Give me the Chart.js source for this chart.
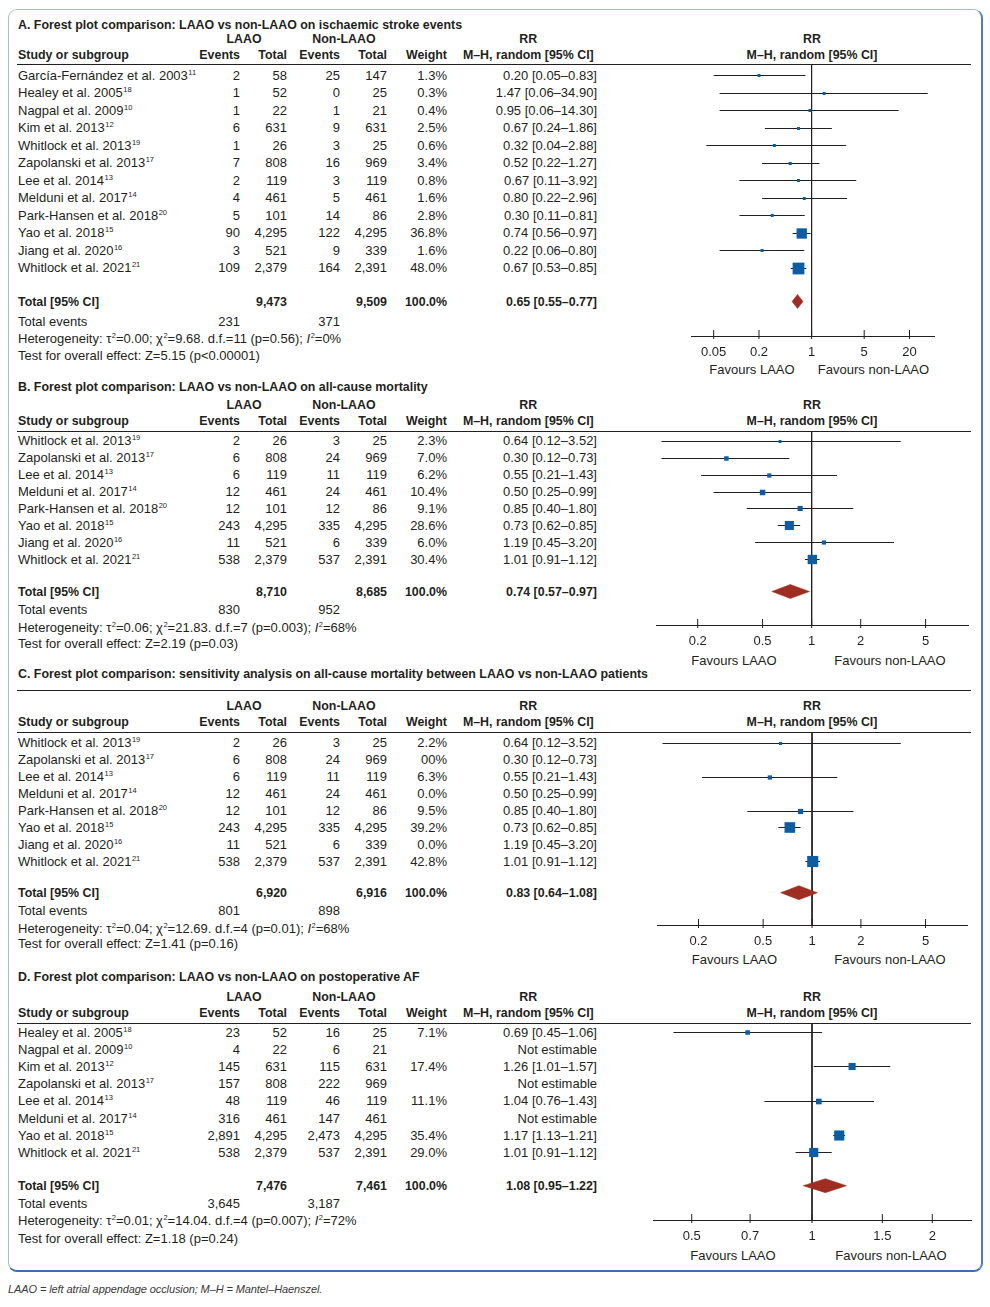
<!DOCTYPE html>
<html><head><meta charset="utf-8">
<script src="https://cdn.jsdelivr.net/npm/chart.js@4.4.1/dist/chart.umd.min.js"></script>
<style>
html,body{margin:0;padding:0;background:#fff;}
body{width:990px;height:1307px;position:relative;overflow:hidden;font-family:"Liberation Sans",Arial,sans-serif;color:#231f20;}
.t{position:absolute;white-space:nowrap;font-size:13px;line-height:16px;height:16px;}
.b{font-weight:bold;font-size:12.4px;}
.r{transform:translateX(-100%);}
.c{transform:translateX(-50%);}
.sup{font-size:7.5px;position:relative;top:-5px;margin-left:0.5px;}
.hl{position:absolute;height:1px;background:#231f20;}
#frame{position:absolute;left:8px;top:9px;width:975px;height:1263px;border-style:solid;border-width:1px 2px 2px 1.5px;border-color:#a7bcd9 #4f7db9 #3f6fae #a7bcd9;border-radius:9px;box-sizing:border-box;}
#foot{position:absolute;left:8px;top:1281px;font-style:italic;font-size:11px;line-height:16px;color:#3a3a3a;white-space:nowrap;letter-spacing:-0.1px;}
canvas{position:absolute;}
</style></head><body>
<div id="frame"></div>
<div id="foot">LAAO = left atrial appendage occlusion; M–H = Mantel–Haenszel.</div>
<script>
// ---------------- DATA ----------------
// Panel A: ischaemic stroke events
const A_title = "A. Forest plot comparison: LAAO vs non-LAAO on ischaemic stroke events";
const A_study = ["García-Fernández et al. 2003","Healey et al. 2005","Nagpal et al. 2009","Kim et al. 2013","Whitlock et al. 2013","Zapolanski et al. 2013","Lee et al. 2014","Melduni et al. 2017","Park-Hansen et al. 2018","Yao et al. 2018","Jiang et al. 2020","Whitlock et al. 2021"];
const A_ref = [11,18,10,12,19,17,13,14,20,15,16,21];
const A_laaoEv = [2,1,1,6,1,7,2,4,5,90,3,109];
const A_laaoN = [58,52,22,631,26,808,119,461,101,4295,521,2379];
const A_ctrlEv = [25,0,1,9,3,16,3,5,14,122,9,164];
const A_ctrlN = [147,25,21,631,25,969,119,461,86,4295,339,2391];
const A_weight = ["1.3%","0.3%","0.4%","2.5%","0.6%","3.4%","0.8%","1.6%","2.8%","36.8%","1.6%","48.0%"];
const A_rr = [0.20,1.47,0.95,0.67,0.32,0.52,0.67,0.80,0.30,0.74,0.22,0.67];
const A_lo = [0.05,0.06,0.06,0.24,0.04,0.22,0.11,0.22,0.11,0.56,0.06,0.53];
const A_hi = [0.83,34.90,14.30,1.86,2.88,1.27,3.92,2.96,0.81,0.97,0.80,0.85];
const A_totalN = [9473, 9509];
const A_totalEv = [231, 371];
const A_pooled = [0.65, 0.55, 0.77];
const A_het = ["0.00","9.68","11","0.56","0"];
const A_overall = ["5.15","p<0.00001"];
const A_ticks = [0.05, 0.2, 1, 5, 20];

// Panel B: all-cause mortality
const B_title = "B. Forest plot comparison: LAAO vs non-LAAO on all-cause mortality";
const B_study = ["Whitlock et al. 2013","Zapolanski et al. 2013","Lee et al. 2014","Melduni et al. 2017","Park-Hansen et al. 2018","Yao et al. 2018","Jiang et al. 2020","Whitlock et al. 2021"];
const B_ref = [19,17,13,14,20,15,16,21];
const B_laaoEv = [2,6,6,12,12,243,11,538];
const B_laaoN = [26,808,119,461,101,4295,521,2379];
const B_ctrlEv = [3,24,11,24,12,335,6,537];
const B_ctrlN = [25,969,119,461,86,4295,339,2391];
const B_weight = ["2.3%","7.0%","6.2%","10.4%","9.1%","28.6%","6.0%","30.4%"];
const B_rr = [0.64,0.30,0.55,0.50,0.85,0.73,1.19,1.01];
const B_lo = [0.12,0.12,0.21,0.25,0.40,0.62,0.45,0.91];
const B_hi = [3.52,0.73,1.43,0.99,1.80,0.85,3.20,1.12];
const B_totalN = [8710, 8685];
const B_totalEv = [830, 952];
const B_pooled = [0.74, 0.57, 0.97];
const B_het = ["0.06","21.83","7","0.003","68"];
const B_overall = ["2.19","p=0.03"];
const B_ticks = [0.2, 0.5, 1, 2, 5];

// Panel C: sensitivity analysis on all-cause mortality
const C_title = "C. Forest plot comparison: sensitivity analysis on all-cause mortality between LAAO vs non-LAAO patients";
const C_study = ["Whitlock et al. 2013","Zapolanski et al. 2013","Lee et al. 2014","Melduni et al. 2017","Park-Hansen et al. 2018","Yao et al. 2018","Jiang et al. 2020","Whitlock et al. 2021"];
const C_ref = [19,17,13,14,20,15,16,21];
const C_laaoEv = [2,6,6,12,12,243,11,538];
const C_laaoN = [26,808,119,461,101,4295,521,2379];
const C_ctrlEv = [3,24,11,24,12,335,6,537];
const C_ctrlN = [25,969,119,461,86,4295,339,2391];
const C_weight = ["2.2%","00%","6.3%","0.0%","9.5%","39.2%","0.0%","42.8%"];
const C_rr = [0.64,0.30,0.55,0.50,0.85,0.73,1.19,1.01];
const C_lo = [0.12,0.12,0.21,0.25,0.40,0.62,0.45,0.91];
const C_hi = [3.52,0.73,1.43,0.99,1.80,0.85,3.20,1.12];
const C_totalN = [6920, 6916];
const C_totalEv = [801, 898];
const C_pooled = [0.83, 0.64, 1.08];
const C_het = ["0.04","12.69","4","0.01","68"];
const C_overall = ["1.41","p=0.16"];
const C_ticks = [0.2, 0.5, 1, 2, 5];

// Panel D: postoperative AF
const D_title = "D. Forest plot comparison: LAAO vs non-LAAO on postoperative AF";
const D_study = ["Healey et al. 2005","Nagpal et al. 2009","Kim et al. 2013","Zapolanski et al. 2013","Lee et al. 2014","Melduni et al. 2017","Yao et al. 2018","Whitlock et al. 2021"];
const D_ref = [18,10,12,17,13,14,15,21];
const D_laaoEv = [23,4,145,157,48,316,2891,538];
const D_laaoN = [52,22,631,808,119,461,4295,2379];
const D_ctrlEv = [16,6,115,222,46,147,2473,537];
const D_ctrlN = [25,21,631,969,119,461,4295,2391];
const D_weight = ["7.1%","","17.4%","","11.1%","","35.4%","29.0%"];
const D_rr = [0.69,null,1.26,null,1.04,null,1.17,1.01];
const D_lo = [0.45,null,1.01,null,0.76,null,1.13,0.91];
const D_hi = [1.06,null,1.57,null,1.43,null,1.21,1.12];
const D_totalN = [7476, 7461];
const D_totalEv = [3645, 3187];
const D_pooled = [1.08, 0.95, 1.22];
const D_het = ["0.01","14.04","4","0.007","72"];
const D_overall = ["1.18","p=0.24"];
const D_ticks = [0.5, 0.7, 1, 1.5, 2];

// ---------------- LAYOUT (pixels) ----------------
const COL = {study:18, ev1:240, n1:287, ev2:340, n2:387, w:447, rr:597, rrC:528.3, laaoC:244, nonC:344, forestC:812, lineL:17, lineR:971};
const PANELS = [
  {d:{title:A_title,study:A_study,ref:A_ref,laaoEv:A_laaoEv,laaoN:A_laaoN,ctrlEv:A_ctrlEv,ctrlN:A_ctrlN,weight:A_weight,rr:A_rr,lo:A_lo,hi:A_hi,totalN:A_totalN,totalEv:A_totalEv,pooled:A_pooled,het:A_het,overall:A_overall,ticks:A_ticks},
   L:{title:25, titleLine:null, h1:39, h2:54.5, line:64, row0:75.6, rowH:17.5, total:301.5, ev:321.5, het:338.5, test:356, axis:336, fav:370, favX:[752,873.5], axL:691, axR:934, xMin:0.025, xMax:42.3}},
  {d:{title:B_title,study:B_study,ref:B_ref,laaoEv:B_laaoEv,laaoN:B_laaoN,ctrlEv:B_ctrlEv,ctrlN:B_ctrlN,weight:B_weight,rr:B_rr,lo:B_lo,hi:B_hi,totalN:B_totalN,totalEv:B_totalEv,pooled:B_pooled,het:B_het,overall:B_overall,ticks:B_ticks},
   L:{title:386.5, titleLine:null, h1:404.5, h2:420.7, line:431, row0:441.3, rowH:16.9, total:591.5, ev:610, het:627.5, test:643.5, axis:625, fav:661, favX:[734,890], axL:656, axR:968, xMin:0.111, xMax:9.1}},
  {d:{title:C_title,study:C_study,ref:C_ref,laaoEv:C_laaoEv,laaoN:C_laaoN,ctrlEv:C_ctrlEv,ctrlN:C_ctrlN,weight:C_weight,rr:C_rr,lo:C_lo,hi:C_hi,totalN:C_totalN,totalEv:C_totalEv,pooled:C_pooled,het:C_het,overall:C_overall,ticks:C_ticks},
   L:{title:674.3, titleLine:690, h1:705.7, h2:721.7, line:732, row0:743.2, rowH:16.95, total:892.7, ev:910.7, het:928.5, test:943.7, axis:925, fav:960, favX:[734.5,890], axL:657, axR:967, xMin:0.111, xMax:9.0}},
  {d:{title:D_title,study:D_study,ref:D_ref,laaoEv:D_laaoEv,laaoN:D_laaoN,ctrlEv:D_ctrlEv,ctrlN:D_ctrlN,weight:D_weight,rr:D_rr,lo:D_lo,hi:D_hi,totalN:D_totalN,totalEv:D_totalEv,pooled:D_pooled,het:D_het,overall:D_overall,ticks:D_ticks},
   L:{title:976.5, titleLine:null, h1:997.3, h2:1013.3, line:1023, row0:1032.5, rowH:17.2, total:1185.7, ev:1203.7, het:1221.3, test:1238.7, axis:1220, fav:1255.5, favX:[733,891], axL:653, axR:971, xMin:0.4, xMax:2.5}}
];

const INK = '#231f20', BLUE = '#0b5ea6', RED = '#9e2d22';
const FONT = '"Liberation Sans", Arial, sans-serif';

// ---------------- HELPERS ----------------
const sup = n => '<span class="sup">' + n + '</span>';
const fmtN = n => n.toLocaleString('en-US');
const fmtRR = (r, l, h) => r == null ? 'Not estimable' : r.toFixed(2) + ' [' + l.toFixed(2) + '–' + h.toFixed(2) + ']';
function txt(html, x, y, align, bold) {
  const el = document.createElement('div');
  el.className = 't' + (bold ? ' b' : '') + (align === 'r' ? ' r' : align === 'c' ? ' c' : '');
  el.style.left = x + 'px';
  el.style.top = (y - 8) + 'px';
  el.innerHTML = html;
  document.body.appendChild(el);
}
function hline(y) {
  const el = document.createElement('div');
  el.className = 'hl';
  el.style.left = COL.lineL + 'px';
  el.style.width = (COL.lineR - COL.lineL) + 'px';
  el.style.top = Math.round(y - 0.5) + 'px';
  document.body.appendChild(el);
}

// ---------------- BUILD ----------------
PANELS.forEach((P, pi) => {
  const d = P.d, L = P.L;
  // titles & headers
  txt(d.title, COL.study, L.title, 'l', true);
  if (L.titleLine) hline(L.titleLine);
  txt('LAAO', COL.laaoC, L.h1, 'c', true);
  txt('Non-LAAO', COL.nonC, L.h1, 'c', true);
  txt('RR', COL.rrC, L.h1, 'c', true);
  txt('RR', COL.forestC, L.h1, 'c', true);
  txt('Study or subgroup', COL.study, L.h2, 'l', true);
  txt('Events', COL.ev1, L.h2, 'r', true);
  txt('Total', COL.n1, L.h2, 'r', true);
  txt('Events', COL.ev2, L.h2, 'r', true);
  txt('Total', COL.n2, L.h2, 'r', true);
  txt('Weight', COL.w, L.h2, 'r', true);
  txt('M–H, random [95% CI]', COL.rrC, L.h2, 'c', true);
  txt('M–H, random [95% CI]', COL.forestC, L.h2, 'c', true);
  hline(L.line + 0.5);
  // study rows
  d.study.forEach((s, i) => {
    const y = L.row0 + i * L.rowH;
    txt(s + sup(d.ref[i]), COL.study, y, 'l', false);
    txt(fmtN(d.laaoEv[i]), COL.ev1, y, 'r', false);
    txt(fmtN(d.laaoN[i]), COL.n1, y, 'r', false);
    txt(fmtN(d.ctrlEv[i]), COL.ev2, y, 'r', false);
    txt(fmtN(d.ctrlN[i]), COL.n2, y, 'r', false);
    if (d.weight[i]) txt(d.weight[i], COL.w, y, 'r', false);
    txt(fmtRR(d.rr[i], d.lo[i], d.hi[i]), COL.rr, y, 'r', false);
  });
  // totals
  txt('Total [95% CI]', COL.study, L.total, 'l', true);
  txt(fmtN(d.totalN[0]), COL.n1, L.total, 'r', true);
  txt(fmtN(d.totalN[1]), COL.n2, L.total, 'r', true);
  txt('100.0%', COL.w, L.total, 'r', true);
  txt(fmtRR(d.pooled[0], d.pooled[1], d.pooled[2]), COL.rr, L.total, 'r', true);
  txt('Total events', COL.study, L.ev, 'l', false);
  txt(fmtN(d.totalEv[0]), COL.ev1, L.ev, 'r', false);
  txt(fmtN(d.totalEv[1]), COL.ev2, L.ev, 'r', false);
  const h = d.het;
  txt('Heterogeneity: τ' + sup(2) + '=' + h[0] + '; χ' + sup(2) + '=' + h[1] + '. d.f.=' + h[2] + ' (p=' + h[3] + '); <i>I</i>' + sup(2) + '=' + h[4] + '%', COL.study, L.het, 'l', false);
  txt('Test for overall effect: Z=' + d.overall[0] + ' (' + d.overall[1] + ')', COL.study, L.test, 'l', false);
  txt('Favours LAAO', L.favX[0], L.fav, 'c', false);
  txt('Favours non-LAAO', L.favX[1], L.fav, 'c', false);

  // ---------- forest chart ----------
  const PADX = 26, AXH = 34;
  const cv = document.createElement('canvas');
  const cw = (L.axR - L.axL) + 2 * PADX;
  const ch = (L.axis - L.line) + AXH;
  cv.width = cw; cv.height = ch;
  cv.style.left = (L.axL - PADX) + 'px';
  cv.style.top = L.line + 'px';
  cv.style.width = cw + 'px'; cv.style.height = ch + 'px';
  document.body.appendChild(cv);

  const yMin = (L.line - L.row0) / L.rowH;
  const yMax = (L.axis - L.row0) / L.rowH;
  const yTot = (L.total - L.row0) / L.rowH;
  const px = 1 / L.rowH; // one pixel in row units
  // snap a row's line to the centre of a pixel row (crisp 1px lines)
  const crisp = i => (Math.floor(L.row0 + i * L.rowH) + 0.5 - L.row0) / L.rowH;

  const datasets = [];
  // squares (weight-scaled)
  const sq = [], rad = [];
  d.rr.forEach((r, i) => {
    const w = parseFloat(d.weight[i]);
    if (r != null && w > 0) {
      sq.push({x: r, y: crisp(i)});
      const side = Math.max(3, 1.7 * Math.sqrt(w));
      rad.push(side / Math.SQRT2);
    }
  });
  datasets.push({data: sq, pointStyle: 'rect', pointRadius: rad, pointBackgroundColor: BLUE, pointBorderWidth: 0, showLine: false, order: 0});
  // pooled diamond
  const dh = 7 * px;
  const pr = d.pooled;
  datasets.push({data: [{x: pr[1], y: yTot}, {x: pr[0], y: yTot - dh}, {x: pr[2], y: yTot}, {x: pr[0], y: yTot + dh}, {x: pr[1], y: yTot}],
    showLine: true, fill: 'shape', backgroundColor: RED, borderColor: RED, borderWidth: 0.5, pointRadius: 0, tension: 0, order: 0});
  // CI lines
  d.rr.forEach((r, i) => {
    const w = parseFloat(d.weight[i]);
    if (r != null && w > 0) {
      datasets.push({data: [{x: d.lo[i], y: crisp(i)}, {x: d.hi[i], y: crisp(i)}], showLine: true, borderColor: INK, borderWidth: 1, pointRadius: 0, order: 2});
    }
  });
  // line of no effect
  datasets.push({data: [{x: 1, y: yMin}, {x: 1, y: yMax}], showLine: true, borderColor: INK, borderWidth: 1, pointRadius: 0, order: 3});
  // tick marks on the axis
  datasets.push({data: d.ticks.map(v => ({x: v, y: yMax - 1.5 * px})), pointStyle: 'line', rotation: 90, pointRadius: 4.5,
    pointBorderColor: INK, pointBorderWidth: 1, showLine: false, clip: false, order: 1});

  new Chart(cv, {
    type: 'scatter',
    data: {datasets},
    options: {
      responsive: false, animation: false, events: [],
      layout: {autoPadding: false, padding: {left: PADX, right: PADX, top: 0, bottom: 0}},
      plugins: {legend: {display: false}, tooltip: {enabled: false}},
      scales: {
        x: {
          type: 'logarithmic', min: L.xMin, max: L.xMax,
          grid: {display: false, drawTicks: false},
          border: {display: true, color: INK, width: 1},
          afterBuildTicks: s => { s.ticks = d.ticks.map(v => ({value: v})); },
          afterFit: s => { s.height = AXH; },
          ticks: {autoSkip: false, maxRotation: 0, padding: 8.5, color: INK, font: {family: FONT, size: 13},
            callback: v => String(v)}
        },
        y: {type: 'linear', reverse: true, min: yMin, max: yMax, display: false}
      }
    }
  });
});
</script>
</body></html>
